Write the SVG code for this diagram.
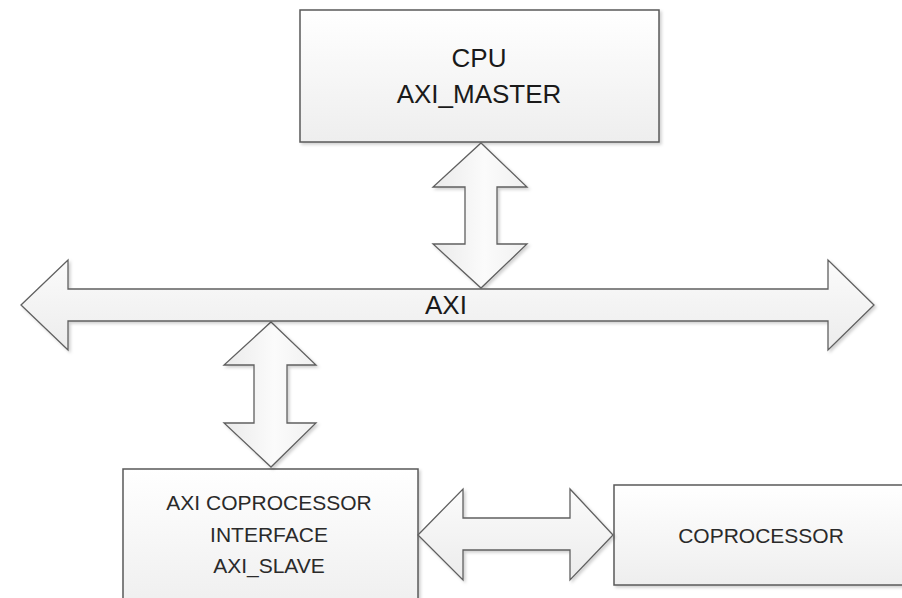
<svg xmlns="http://www.w3.org/2000/svg" width="902" height="598" viewBox="0 0 902 598">
<defs>
<linearGradient id="boxg" x1="0" y1="0" x2="0" y2="1">
<stop offset="0" stop-color="#ffffff"/>
<stop offset="1" stop-color="#eeeeee"/>
</linearGradient>
<linearGradient id="vg" x1="0" y1="0" x2="1" y2="0">
<stop offset="0" stop-color="#eaeaea"/>
<stop offset="0.55" stop-color="#fbfbfb"/>
<stop offset="1" stop-color="#f0f0f0"/>
</linearGradient>
<linearGradient id="hg" x1="0" y1="0" x2="0" y2="1">
<stop offset="0" stop-color="#fbfbfb"/>
<stop offset="1" stop-color="#ececec"/>
</linearGradient>
<filter id="sh" x="-5%" y="-5%" width="115%" height="115%">
<feDropShadow dx="2" dy="2" stdDeviation="1.5" flood-color="#000" flood-opacity="0.18"/>
</filter>
</defs>
<style>
.box{fill:url(#boxg);stroke:#5a5a5a;stroke-width:1.5;filter:url(#sh)}
.va{fill:url(#vg);stroke:#606060;stroke-width:1.3;stroke-linejoin:miter;filter:url(#sh)}
.ha{fill:url(#hg);stroke:#606060;stroke-width:1.3;stroke-linejoin:miter;filter:url(#sh)}
.big{font-family:"Liberation Sans",Arial,sans-serif;font-size:26px;fill:#1a1a1a;text-anchor:middle}
.sm{font-family:"Liberation Sans",Arial,sans-serif;font-size:21px;fill:#2a2a2a;text-anchor:middle}
</style>
<g id="cpu">
<rect class="box" x="300" y="10" width="359" height="132"/>
<text class="big" x="479" y="67">CPU</text>
<text class="big" x="479" y="103">AXI_MASTER</text>
</g>
<g id="coproc-interface">
<rect class="box" x="123" y="469" width="295" height="145"/>
<text class="sm" x="269" y="510">AXI COPROCESSOR</text>
<text class="sm" x="269" y="542">INTERFACE</text>
<text class="sm" x="269" y="573">AXI_SLAVE</text>
</g>
<g id="coprocessor">
<rect class="box" x="614" y="485" width="300" height="100"/>
<text class="sm" x="761" y="543">COPROCESSOR</text>
</g>
<g id="connectors">
<polygon class="va" points="481,143 527,187 497,187 497,244 527,244 481,288 433,244 465,244 465,187 433,187"/>
<polygon class="ha" points="418,535 463,489 463,518 570,518 570,489 613,535 570,580 570,550 463,550 463,580"/>
<polygon class="va" points="271,322 316,365 287,365 287,423 316,423 271,467 224,423 254,423 254,365 224,365"/>
</g>
<g id="axi-bus">
<polygon class="ha" points="21,305 68,260 68,289 828,289 828,260 874,305 828,350 828,321 68,321 68,350"/>
<text class="big" x="446" y="314">AXI</text>
</g>
</svg>
